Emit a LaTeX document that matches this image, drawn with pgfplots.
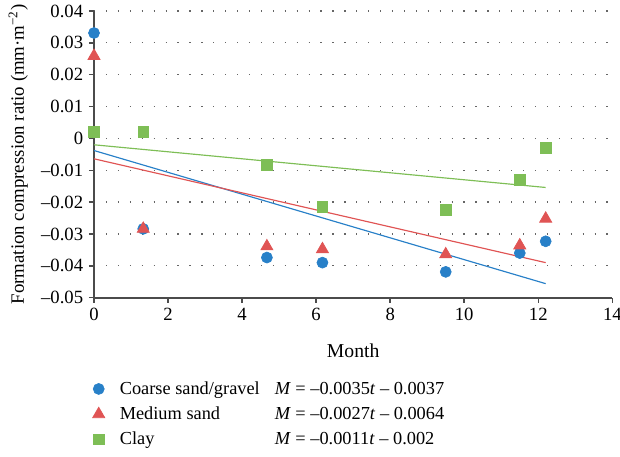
\documentclass[border=0pt]{standalone}
\usepackage{fontspec}
\setmainfont{Liberation Serif}
\usepackage{pgfplots}
\pgfplotsset{compat=1.18}
\definecolor{cblue}{RGB}{40,128,200}
\definecolor{cred}{RGB}{224,84,84}
\definecolor{cgreen}{RGB}{126,190,86}
\definecolor{axgray}{RGB}{75,75,75}
\begin{document}
\begin{tikzpicture}
\begin{axis}[
  scale only axis, width=311pt, height=172pt,
  xmin=0, xmax=14, ymin=-0.05, ymax=0.04,
  xtick={0,2,...,14},
  ytick={-0.05,-0.04,-0.03,-0.02,-0.01,0,0.01,0.02,0.03,0.04},
  yticklabels={–0.05,–0.04,–0.03,–0.02,–0.01,0,0.01,0.02,0.03,0.04},
  scaled y ticks=false,
  /pgf/number format/assume math mode=true,
  axis lines*=left,
  axis line style={axgray, line width=1.1pt},
  tick style={axgray, line width=0.9pt},
  tick align=outside, major tick length=3pt,
  ymajorgrids, grid style={black!60, line width=0.75pt, dash pattern=on 0.75pt off 6.4pt},
  ticklabel style={font=\fontsize{11.2}{13}\selectfont},
  xlabel={Month}, ylabel={Formation compression ratio (mm·m\textsuperscript{−2})},
  xlabel style={font=\fontsize{11.8}{14}\selectfont, yshift=-7pt},
  ylabel style={font=\fontsize{11.3}{13}\selectfont, yshift=1pt},
  legend style={at={(axis description cs:0,0)}, anchor=north west, xshift=-4pt, yshift=-46pt,
    draw=none, fill=none, row sep=2pt, font=\fontsize{11}{13}\selectfont},
  legend cell align=left,
  clip=false,
]
\addplot[only marks, mark=*, mark size=3.3pt, mark options={draw=cblue, fill=cblue}] coordinates {
 (0,0.0331) (1.33,-0.0284) (4.67,-0.0374) (6.17,-0.039) (9.5,-0.0419) (11.5,-0.036) (12.2,-0.0323)};
\addlegendentry{\hspace{7pt}\makebox[93pt][l]{Coarse sand/gravel}\textit{M} = –0.0035\textit{t} – 0.0037}
\addplot[only marks, mark=triangle*, mark size=4.2pt, mark options={draw=cred, fill=cred}] coordinates {
 (0,0.0259) (1.33,-0.0284) (4.67,-0.0339) (6.17,-0.0348) (9.5,-0.0364) (11.5,-0.0336) (12.2,-0.0252)};
\addlegendentry{\hspace{7pt}\makebox[93pt][l]{Medium sand}\textit{M} = –0.0027\textit{t} – 0.0064}
\addplot[only marks, mark=square*, mark size=3.2pt, mark options={draw=cgreen, fill=cgreen}] coordinates {
 (0,0.002) (1.33,0.002) (4.67,-0.0082) (6.17,-0.0214) (9.5,-0.0224) (11.5,-0.013) (12.2,-0.0029)};
\addlegendentry{\hspace{7pt}\makebox[93pt][l]{Clay}\textit{M} = –0.0011\textit{t} – 0.002}
\addplot[cblue, line width=0.7pt, forget plot] coordinates {(0,-0.0038) (12.2,-0.0456)};
\addplot[cred, line width=0.7pt, forget plot] coordinates {(0,-0.0064) (12.2,-0.039)};
\addplot[cgreen, line width=0.7pt, forget plot] coordinates {(0,-0.002) (12.2,-0.0154)};
\end{axis}
\pgfresetboundingbox
\path[use as bounding box] (-56.4pt,-95pt) rectangle (315.6pt,178.6pt);
\end{tikzpicture}
\end{document}
